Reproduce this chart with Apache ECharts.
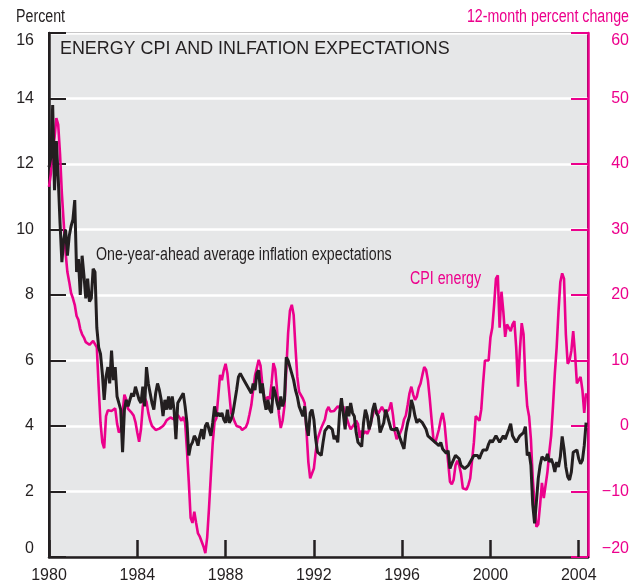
<!DOCTYPE html>
<html>
<head>
<meta charset="utf-8">
<title>Energy CPI and inflation expectations</title>
<script src="https://cdn.jsdelivr.net/npm/echarts@6/dist/echarts.min.js"></script>
<style>
  html, body { margin: 0; padding: 0; background: #fff; }
  #chart { width: 641px; height: 586px; }
</style>
</head>
<body>
<div id="chart"></div>
<script>
// monthly series, Jan 1980 .. May 2004
const startYear = 1980

// one-year-ahead average inflation expectations, percent (left axis)
const expectations = [
  11.9, 12.2, 13.8, 11.2, 12.7, 11.6, 10.2, 9.0, 9.7, 10.0, 9.2, 9.8,
  10.1, 10.3, 10.9, 8.7, 9.1, 8.0, 9.2, 8.6, 7.9, 8.5, 7.8, 7.9,
  8.8, 8.7, 7.0, 6.4, 6.2, 5.6, 4.8, 5.5, 5.8, 5.3, 6.3, 5.4,
  5.8, 4.9, 4.7, 4.5, 3.2, 4.5, 4.8, 4.6, 4.6, 5.0, 4.9, 5.2,
  5.0, 4.8, 4.7, 5.2, 4.6, 5.8, 5.3, 5.0, 4.7, 4.5, 5.0, 5.3,
  5.1, 4.8, 4.3, 4.8, 4.5, 4.9, 4.5, 4.9, 4.5, 3.6, 4.7, 4.7,
  4.9, 5.0, 4.6, 4.1, 3.1, 3.4, 3.5, 3.7, 3.6, 3.4, 3.7, 3.9,
  3.6, 4.0, 4.1, 3.9, 3.7, 4.1, 4.6, 4.3, 4.4, 4.3, 4.4, 4.2,
  4.1, 4.5, 4.1, 4.2, 4.4, 4.4, 5.1, 5.5, 5.6, 5.5, 5.4, 5.3,
  5.2, 5.1, 5.0, 5.3, 5.1, 5.6, 5.7, 5.0, 5.3, 4.8, 4.5, 4.8,
  4.5, 4.4, 5.2, 5.0, 4.7, 4.5, 4.9, 4.6, 4.8, 6.1, 6.0, 5.8,
  5.6, 5.4, 5.1, 4.9, 4.6, 4.6, 4.3, 4.6, 4.0, 3.7, 4.4, 4.5,
  4.2, 3.6, 3.2, 3.2, 3.1, 3.5, 3.85, 3.8, 4.0, 3.95, 3.9, 3.6,
  3.7, 3.5, 4.4, 4.85, 4.8, 3.9, 4.6, 4.3, 4.7, 4.4, 4.3, 3.8,
  3.5, 3.45, 3.37, 4.1, 4.5, 4.3, 3.9, 4.1, 4.5, 4.7, 4.4, 4.3,
  3.8, 3.75, 4.1, 4.5, 4.5, 4.1, 3.9, 3.9, 3.88, 3.95, 3.9, 3.6,
  3.6, 3.3, 3.8, 4.1, 4.3, 4.8, 4.6, 4.3, 4.1, 4.2, 4.2, 4.1,
  4.05, 3.9, 3.7, 3.67, 3.6, 3.6, 3.5, 3.5, 3.4, 3.5, 3.3, 3.3,
  3.17, 3.25, 2.7, 2.85, 2.9, 3.1, 3.15, 3.0, 2.8, 2.75, 2.7, 2.65,
  2.8, 2.86, 3.0, 3.1, 3.15, 3.1, 3.0, 3.15, 3.27, 3.3, 3.27, 3.45,
  3.57, 3.5, 3.5, 3.7, 3.75, 3.5, 3.6, 3.7, 3.6, 3.55, 3.9, 4.07,
  3.7, 3.75, 3.5, 3.6, 3.7, 3.75, 3.8, 3.98, 3.1, 3.2, 2.8, 1.6,
  1.03, 1.7, 2.4, 2.8, 3.06, 3.06, 2.95, 3.15, 2.9, 3.0, 2.85, 2.6,
  2.9, 2.75, 3.06, 3.68, 3.3, 2.75, 2.45, 2.35, 2.6, 3.2, 3.2, 3.27,
  3.0, 2.85, 2.95, 3.4, 4.1
]

// CPI energy, 12-month percent change (right axis)
const cpiEnergy = [
  36.5, 38.5, 42, 44, 47, 46, 41.5, 35.5, 31, 26.5, 23.5, 22,
  20.3, 19.5, 18.5, 16.8, 16.2, 14.8, 14.0, 13.5, 12.8, 12.5, 12.4, 12.6,
  13.0, 13.2, 12.0, 6.0, 0.5, -2.5, -3.4, 1.5, 2.4, 2.5, 2.3, 2.6,
  2.7, 0.4, -1.0, -0.5, 2.0, 4.8, 4.0, 2.6, 2.4, 2.0, 1.6, 0.6,
  -1.0, -2.4, -0.5, 3.0, 4.3, 3.7, 2.0, 0.8, 0.0, -0.3, -0.6, -0.5,
  -0.4, -0.6, 0.0, 0.4, 0.9, 1.0, 1.3, 1.4, 1.0, 1.3, 1.7, 2.0,
  0.8, 1.4, 0.5, -3.7, -8.5, -14.0, -14.8, -13.1, -14.8, -16.4, -16.9, -16.6,
  -18.4, -19.4, -17.0, -12.5, -7.5, -2.6, 0.6, 1.2, 4.5, 7.8, 7.0, 8.5,
  9.5, 8.0, 5.0, 2.0, 1.4, 0.6, 0.0, -0.2, -0.2, -0.6, -0.4, -0.2,
  0.5, 1.8, 3.2, 5.5, 7.7, 8.9, 10.1, 9.2, 6.3, 4.5, 4.0, 4.5,
  4.1, 6.5, 9.6, 8.7, 5.5, 1.8, -0.3, 0.8, 3.0, 8.5, 14.2, 17.6,
  18.5, 17.0, 12.0, 7.5, 5.2, 5.0, 4.2, 3.5, -0.8, -5.5, -8.0, -8.2,
  -6.5, -4.0, -2.0, -1.8, -0.3, 0.0, 1.0, 2.4, 2.9, 2.2, 2.0, 2.3,
  2.2, 3.0, 3.2, 2.6, 3.0, 1.6, 1.1, 0.2, -0.5, -0.4, 0.3, 0.8,
  0.3, -1.8, -0.7, -1.2, -0.8, -1.2, -0.6, 0.6, 1.6, 2.9, 2.6, 1.9,
  2.2, 2.9, 2.4, 1.9, 1.6, 2.6, 3.6, 1.7, -0.8, -2.0, -1.5, -1.0,
  -0.3, 1.0, 1.6, 3.2, 5.0, 6.0, 4.8, 4.0, 4.5, 5.8, 6.5, 7.8,
  9.0, 8.6, 7.0, 4.2, 1.0, -2.0, -2.6, -2.3, -0.5, 1.0, 2.0, 0.5,
  -2.5, -5.5, -8.5, -8.9, -8.2, -6.0, -5.3, -6.0, -7.3, -9.5, -9.5, -9.7,
  -9.0, -8.0, -5.3, -2.5, 1.5, 1.8, 0.8, 2.5, 6.5, 10.0, 10.3, 10.0,
  13.5, 15.0, 18.5, 22.5, 23.0, 15.0, 20.5, 17.5, 13.6, 15.5, 15.8, 14.5,
  15.5, 16.0, 12.0, 6.0, 11.5, 15.7, 14.0, 7.0, 3.0, 1.5, -2.0, -8.0,
  -12.0, -15.4, -15.0, -12.0, -8.7, -11.0, -11.0, -7.0, -4.0, -1.5, 3.0, 8.0,
  12.0, 17.5, 22.0, 23.3, 22.5, 14.0, 9.5, 10.0, 11.5, 14.5, 11.0, 6.5,
  6.8, 7.5, 5.5, 2.0, 5.0
]

const yearTicks = [1980, 1984, 1988, 1992, 1996, 2000, 2004]

const DARK = '#231f20'
const PINK = '#ec008c'
const SANS = '"Liberation Sans", Arial, sans-serif'
// no condensed Helvetica here: squeeze regular sans horizontally
const NARROW_FONT = '18px ' + SANS
const SQUEEZE = 0.79

const toPairs = arr => arr.map((v, i) => [startYear + i / 12, v])

const chart = echarts.init(document.getElementById('chart'))

chart.setOption({
  animation: false,
  backgroundColor: '#fff',
  grid: {
    left: 49, right: 53, top: 33, bottom: 29,
    show: true,
    backgroundColor: '#e6e7e8',
    borderColor: DARK,
    borderWidth: 2
  },
  xAxis: {
    type: 'value',
    min: 1980,
    max: 2004.42,
    interval: 4,
    axisLine: { lineStyle: { color: DARK, width: 2.5 } },
    axisTick: { inside: true, length: 17, lineStyle: { color: DARK, width: 2.5 } },
    splitLine: { show: false },
    axisLabel: {
      color: DARK,
      fontFamily: SANS,
      fontSize: 16,
      margin: 11,
      showMaxLabel: false,
      formatter: v => (yearTicks.indexOf(v) >= 0 ? String(v) : '')
    }
  },
  yAxis: [
    {
      type: 'value',
      min: 0, max: 16, interval: 2,
      position: 'left',
      axisLine: { show: true, lineStyle: { color: DARK, width: 2.5 } },
      axisTick: { show: true, inside: true, length: 17, lineStyle: { color: DARK, width: 2 } },
      splitLine: { show: true, lineStyle: { color: '#ffffff', width: 2.5 } },
      axisLabel: {
        color: DARK, fontFamily: SANS, fontSize: 16, margin: 15,
        verticalAlignMaxLabel: 'top', verticalAlignMinLabel: 'bottom'
      }
    },
    {
      type: 'value',
      min: -20, max: 60, interval: 10,
      position: 'right',
      axisLine: { show: true, lineStyle: { color: PINK, width: 2.5 } },
      axisTick: { show: true, inside: true, length: 17, lineStyle: { color: PINK, width: 2 } },
      splitLine: { show: false },
      axisLabel: {
        color: PINK, fontFamily: SANS, fontSize: 16, margin: 41, align: 'right',
        verticalAlignMaxLabel: 'top', verticalAlignMinLabel: 'bottom',
        formatter: v => String(v).replace('-', '\u2212')
      }
    }
  ],
  series: [
    {
      name: 'CPI energy',
      type: 'line',
      yAxisIndex: 1,
      showSymbol: false,
      lineStyle: { color: PINK, width: 2.6 },
      data: toPairs(cpiEnergy)
    },
    {
      name: 'One-year-ahead average inflation expectations',
      type: 'line',
      yAxisIndex: 0,
      showSymbol: false,
      lineStyle: { color: DARK, width: 3 },
      data: toPairs(expectations)
    }
  ],
  graphic: [
    {
      type: 'text', x: 16, y: 17, scaleX: SQUEEZE,
      style: { text: 'Percent', fill: DARK, font: NARROW_FONT, align: 'left', verticalAlign: 'middle' }
    },
    {
      type: 'text', x: 629, y: 17, scaleX: SQUEEZE,
      style: { text: '12-month percent change', fill: PINK, font: NARROW_FONT, align: 'right', verticalAlign: 'middle' }
    },
    {
      type: 'text', x: 60, y: 49,
      style: { text: 'ENERGY CPI AND INLFATION EXPECTATIONS', fill: DARK, font: '17.9px ' + SANS, align: 'left', verticalAlign: 'middle' }
    },
    {
      type: 'text', x: 96, y: 255, scaleX: SQUEEZE,
      style: { text: 'One-year-ahead average inflation expectations', fill: DARK, font: NARROW_FONT, align: 'left', verticalAlign: 'middle' }
    },
    {
      type: 'text', x: 410, y: 279, scaleX: SQUEEZE,
      style: { text: 'CPI energy', fill: PINK, font: NARROW_FONT, align: 'left', verticalAlign: 'middle' }
    }
  ]
})
</script>
</body>
</html>
